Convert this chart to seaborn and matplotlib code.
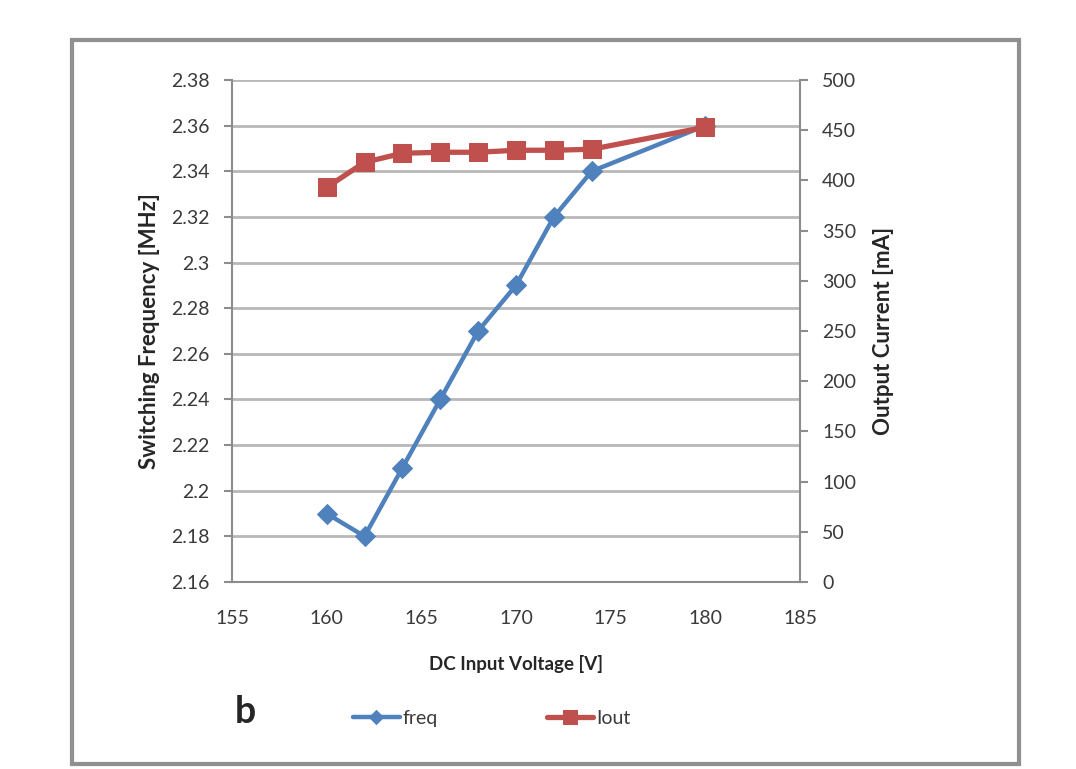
import numpy as np
import pandas as pd
import seaborn as sns
import matplotlib.pyplot as plt
from matplotlib.patches import Rectangle
from matplotlib.ticker import FuncFormatter

# data
volt = [160, 162, 164, 166, 168, 170, 172, 174, 180]
freq = [2.19, 2.18, 2.21, 2.24, 2.27, 2.29, 2.32, 2.34, 2.36]
iout = [393, 418, 427, 428, 428, 430, 430, 431, 453]

x_ticks = [155, 160, 165, 170, 175, 180, 185]
freq_ticks = [2.16, 2.18, 2.2, 2.22, 2.24, 2.26, 2.28, 2.3, 2.32, 2.34, 2.36, 2.38]
iout_ticks = [0, 50, 100, 150, 200, 250, 300, 350, 400, 450, 500]

blue = "#4F81BD"
red = "#C0504D"
grid_col = "#b8b8b8"
spine_col = "#8c8c8c"

sns.set_style("white")
plt.rcParams["font.family"] = ["Lato", "DejaVu Sans"]

df = pd.DataFrame({"volt": volt, "freq": freq, "iout": iout})

fig = plt.figure(figsize=(10.76, 7.69), dpi=100)
ax = fig.add_axes([0.2156, 0.2432, 0.5279, 0.6528])
ax2 = ax.twinx()

sns.lineplot(data=df, x="volt", y="freq", ax=ax, color=blue, lw=3.2,
             marker="D", markersize=10, markeredgecolor=blue, label="freq",
             legend=False, zorder=3)
sns.lineplot(data=df, x="volt", y="iout", ax=ax2, color=red, lw=3.8,
             marker="s", markersize=13.5, markeredgecolor=red, label="Iout",
             legend=False, zorder=3)

ax.set_xlim(155, 185)
ax.set_ylim(2.16, 2.38)
ax2.set_ylim(0, 500)
ax.set_xticks(x_ticks)
ax.set_yticks(freq_ticks)
ax2.set_yticks(iout_ticks)
ax.yaxis.set_major_formatter(FuncFormatter(lambda v, p: "%g" % round(v, 2)))

ax.grid(axis="y", color=grid_col, lw=2)
ax.set_axisbelow(True)

for a in (ax, ax2):
    for s in a.spines.values():
        s.set_color(spine_col)
        s.set_linewidth(1.5)
    a.spines["top"].set_visible(False)
    a.tick_params(colors=spine_col, labelcolor="#3a3a3a", labelsize=14,
                  length=6, width=1.5, direction="out", pad=10)
ax.tick_params(axis="x", pad=14)
ax.spines["right"].set_visible(False)
ax2.spines["left"].set_visible(False)
ax2.spines["bottom"].set_visible(False)

ax.set_xlabel("DC Input Voltage [V]", fontsize=13.5, fontweight="bold", labelpad=20)
ax.set_ylabel("Switching Frequency [MHz]", fontsize=16, fontweight="bold", labelpad=8)
ax2.set_ylabel("Output Current [mA]", fontsize=16, fontweight="bold", labelpad=12)

# legend along the bottom
h1, l1 = ax.get_legend_handles_labels()
h2, l2 = ax2.get_legend_handles_labels()
leg = fig.legend(h1 + h2, l1 + l2, ncol=2, loc="center", bbox_to_anchor=(0.457, 0.066),
                 frameon=False, fontsize=14, handlelength=2.4, columnspacing=5.6,
                 handletextpad=0.15, labelcolor="#3a3a3a", markerscale=0.75)

fig.text(0.228, 0.074, "b", fontsize=27, fontweight="bold", ha="center", va="center")

# outer frame
fig.patches.append(Rectangle((0.067, 0.0065), 0.880, 0.9415, transform=fig.transFigure,
                             fill=False, edgecolor="#909090", lw=3))

fig.savefig("out.png", dpi=100)
